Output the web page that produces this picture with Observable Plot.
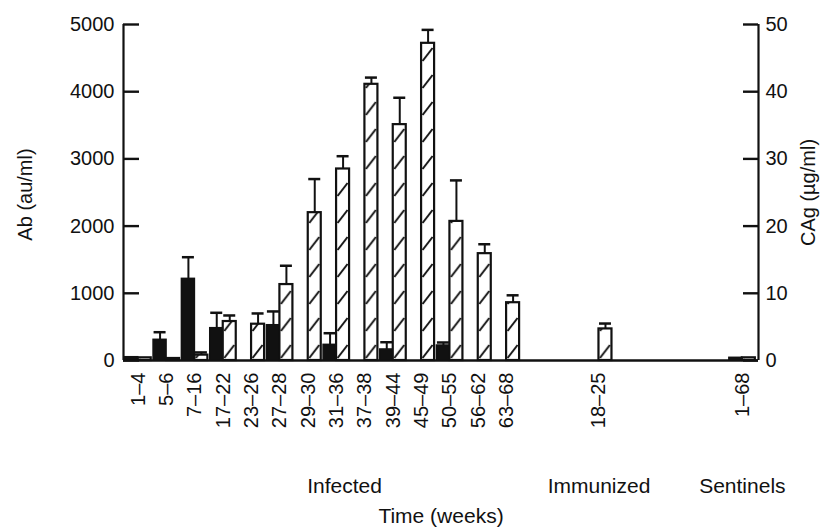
<!DOCTYPE html>
<html><head><meta charset="utf-8">
<script src="https://cdn.jsdelivr.net/npm/d3@7"></script>
<script src="https://cdn.jsdelivr.net/npm/@observablehq/plot@0.6"></script>
<style>
body{margin:0;background:#fff;}
</style></head><body><div id="chart"></div>
<script>
// ---- data ----
const categories = ["1–4","5–6","7–16","17–22","23–26","27–28","29–30","31–36","37–38","39–44","45–49","50–55","56–62","63–68","18–25","1–68"];
const categoryGroup = ["Infected","Infected","Infected","Infected","Infected","Infected","Infected","Infected","Infected","Infected","Infected","Infected","Infected","Infected","Immunized","Sentinels"];
const groups = ["Infected","Immunized","Sentinels"];
// Ab (au/ml), left axis: mean and top of error bar
const abMean  = [49, 308, 1215, 481, 0, 525, 0, 233, 0, 164, 0, 223, 0, 0, 0, 40];
const abUpper = [null, 421, 1537, 710, null, 730, null, 406, null, 272, null, 268, null, null, null, null];
// CAg (µg/ml), right axis: mean and top of error bar
const cagMean  = [0.4, 0.3, 0.8, 5.8, 5.4, 11.3, 22.0, 28.5, 41.1, 35.1, 47.2, 20.7, 15.9, 8.6, 4.7, 0.4];
const cagUpper = [null, null, 1.2, 6.7, 7.0, 14.1, 27.0, 30.4, 42.1, 39.1, 49.2, 26.8, 17.3, 9.7, 5.5, null];
const abTicks = [0, 1000, 2000, 3000, 4000, 5000];
const cagTicks = [0, 10, 20, 30, 40, 50];

// ---- layout ----
const W = 830, H = 531, mT = 24, mB = 171, mL = 123, mR = 72;
const groupStart = {Infected: 0, Immunized: 16.26, Sentinels: 21.32};
const groupLabelOffset = {Infected: 7.28, Immunized: 0, Sentinels: 0};
const xDomain = [-0.52, 21.89];
const pxPerUnit = (W - mL - mR) / (xDomain[1] - xDomain[0]);
const halfBar = 13 / pxPerUnit;
const capHalf = 6 / pxPerUnit;
const leftTickLen = 16 / pxPerUnit, rightTickLen = 15 / pxPerUnit;
const cagFactor = 100; // 50 µg/ml on the right axis lines up with 5000 au/ml on the left
const font = "'Liberation Sans', Arial, Helvetica, sans-serif";
const HATCH_MARK = "#fffffe";

const rows = categories.map((c, i) => {
  const g = categoryGroup[i];
  const within = categoryGroup.slice(0, i).filter(x => x === g).length;
  return {
    label: c, group: g, pos: groupStart[g] + within,
    ab: abMean[i], abUp: abUpper[i],
    cag: cagMean[i] * cagFactor, cagUp: cagUpper[i] == null ? null : cagUpper[i] * cagFactor
  };
});
const groupRows = groups.map(g => ({text: g, pos: groupStart[g] + groupLabelOffset[g]}));
const abRows = rows.filter(d => d.ab > 0);
const cagRows = rows.filter(d => d.cag > 0);
const abErr = rows.filter(d => d.abUp != null);
const cagErr = rows.filter(d => d.cagUp != null);
const cagTickRows = cagTicks.map(v => v * cagFactor);

const chart = Plot.plot({
  width: W, height: H,
  marginTop: mT, marginBottom: mB, marginLeft: mL, marginRight: mR,
  style: {fontSize: "20px", fontFamily: font, color: "#111", background: "#fff"},
  x: {domain: xDomain, axis: null},
  y: {domain: [0, 5000]},
  marks: [
    Plot.rect(abRows, {x1: d => d.pos - halfBar, x2: "pos", y1: 0, y2: "ab", fill: "#111", stroke: "#111", strokeWidth: 1.5}),
    Plot.rect(cagRows, {x1: "pos", x2: d => d.pos + halfBar, y1: 0, y2: "cag", fill: HATCH_MARK, stroke: "#111", strokeWidth: 2.2}),
    Plot.ruleX(abErr, {x: d => d.pos - halfBar / 2, y1: "ab", y2: "abUp", stroke: "#111", strokeWidth: 2}),
    Plot.ruleY(abErr, {y: "abUp", x1: d => d.pos - halfBar / 2 - capHalf, x2: d => d.pos - halfBar / 2 + capHalf, stroke: "#111", strokeWidth: 2.5}),
    Plot.ruleX(cagErr, {x: d => d.pos + halfBar / 2, y1: "cag", y2: "cagUp", stroke: "#111", strokeWidth: 2}),
    Plot.ruleY(cagErr, {y: "cagUp", x1: d => d.pos + halfBar / 2 - capHalf, x2: d => d.pos + halfBar / 2 + capHalf, stroke: "#111", strokeWidth: 2.5}),
    Plot.ruleY([0], {x1: xDomain[0], x2: xDomain[1], stroke: "#111", strokeWidth: 2.5}),
    Plot.ruleX([xDomain[0]], {y1: 0, y2: 5000, stroke: "#111", strokeWidth: 2.2}),
    Plot.ruleX([xDomain[1]], {y1: 0, y2: 5000, stroke: "#111", strokeWidth: 2.2}),
    // inward tick marks
    Plot.ruleY(abTicks, {y: d => d, x1: xDomain[0], x2: xDomain[0] + leftTickLen, stroke: "#111", strokeWidth: 2.4}),
    Plot.ruleY(cagTickRows, {y: d => d, x1: xDomain[1] - rightTickLen, x2: xDomain[1], stroke: "#111", strokeWidth: 2.4}),
    Plot.axisY(abTicks, {anchor: "left", tickSize: 0, tickPadding: 9, tickFormat: d => String(d), label: null}),
    Plot.axisY(cagTickRows, {anchor: "right", tickSize: 0, tickPadding: 7, tickFormat: d => String(d / cagFactor), label: null}),
    Plot.text(rows, {x: "pos", y: 0, text: "label", rotate: -90, textAnchor: "end", dy: 12}),
    Plot.text(groupRows, {x: "pos", y: 0, text: "text", dy: 126, fontSize: 21}),
    Plot.text(["Ab (au/ml)"], {frameAnchor: "left", textAnchor: "middle", rotate: -90, dx: -98, dy: 2}),
    Plot.text(["CAg (µg/ml)"], {frameAnchor: "right", textAnchor: "middle", rotate: -90, dx: 50}),
    Plot.text(["Time (weeks)"], {frameAnchor: "bottom", dy: 162, fontSize: 21})
  ]
});
document.getElementById("chart").appendChild(chart);

// diagonal hatching for the CAg bars, one pattern per bar so each starts at its own edge
const ns = "http://www.w3.org/2000/svg";
const defs = document.createElementNS(ns, "defs");
chart.insertBefore(defs, chart.firstChild);
const hatchRects = [];
chart.querySelectorAll("g").forEach(g => {
  if ((g.getAttribute("fill") || "").toLowerCase() === HATCH_MARK) g.querySelectorAll("rect").forEach(r => hatchRects.push(r));
});
chart.querySelectorAll("rect").forEach(r => {
  if ((r.getAttribute("fill") || "").toLowerCase() === HATCH_MARK && !hatchRects.includes(r)) hatchRects.push(r);
});
hatchRects.forEach((r, i) => {
  const x = +r.getAttribute("x"), w = +r.getAttribute("width");
  const bottom = +r.getAttribute("y") + +r.getAttribute("height");
  const p = document.createElementNS(ns, "pattern");
  p.setAttribute("id", "hatch-" + i);
  p.setAttribute("patternUnits", "userSpaceOnUse");
  p.setAttribute("x", x); p.setAttribute("y", bottom);
  p.setAttribute("width", w); p.setAttribute("height", 27);
  const bg = document.createElementNS(ns, "rect");
  bg.setAttribute("width", w); bg.setAttribute("height", 27); bg.setAttribute("fill", "#fff");
  const l = document.createElementNS(ns, "line");
  l.setAttribute("x1", 1.5); l.setAttribute("y1", 25);
  l.setAttribute("x2", w - 1.5); l.setAttribute("y2", 12);
  l.setAttribute("stroke", "#111"); l.setAttribute("stroke-width", 2);
  p.appendChild(bg); p.appendChild(l);
  defs.appendChild(p);
  r.setAttribute("fill", `url(#hatch-${i})`);
});
</script></body></html>
